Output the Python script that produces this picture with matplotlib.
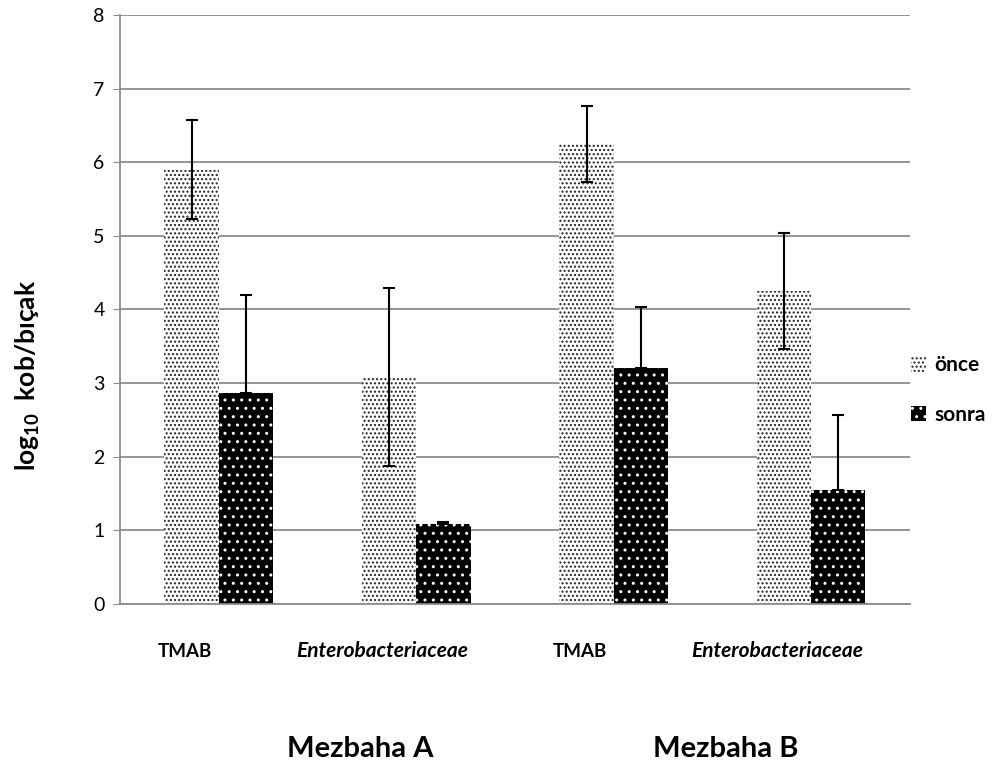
import matplotlib
matplotlib.use("Agg")
import matplotlib.pyplot as plt
from matplotlib.patches import Patch
import matplotlib.transforms as mtransforms
import numpy as np

plt.rcParams['font.family'] = ['Lato', 'DejaVu Sans']
plt.rcParams['mathtext.fontset'] = 'custom'
plt.rcParams['mathtext.rm'] = 'Lato:bold'
plt.rcParams['mathtext.default'] = 'rm'
plt.rcParams['hatch.linewidth'] = 1.0

categories = ["TMAB", "Enterobacteriaceae", "TMAB", "Enterobacteriaceae"]
groups = ["Mezbaha A", "Mezbaha B"]
once = [5.90, 3.08, 6.25, 4.25]
once_err = [0.67, 1.21, 0.52, 0.79]
sonra = [2.87, 1.09, 3.20, 1.55]
sonra_err = [1.33, 0.02, 0.83, 1.02]
yticks = [0, 1, 2, 3, 4, 5, 6, 7, 8]

fig = plt.figure(figsize=(10.03, 7.69), dpi=100)
ax = fig.add_axes([0.1196, 0.2146, 0.7876, 0.7659])

x = np.arange(len(categories))
w = 0.275

ax.bar(x - w/2, once, w, facecolor='white', edgecolor='#222222', hatch='....', linewidth=0, zorder=2)
ax.bar(x + w/2, sonra, w, facecolor='black', edgecolor='white', hatch='..', linewidth=0, zorder=2)
ax.errorbar(x - w/2, once, yerr=once_err, fmt='none', ecolor='black', elinewidth=1.5,
            capsize=4.5, capthick=1.5, zorder=3)
ax.errorbar(x + w/2, sonra, yerr=[np.zeros(len(sonra)), sonra_err], fmt='none', ecolor='black',
            elinewidth=1.5, capsize=4.5, capthick=1.5, zorder=3)

ax.set_xlim(-0.5, 3.5)
ax.set_ylim(0, 8)
ax.set_yticks(yticks)
ax.set_yticklabels([str(t) for t in yticks], fontsize=14)
ax.yaxis.grid(True, color='#8c8c8c', linewidth=1.3)
ax.set_axisbelow(True)
ax.set_xticks([])
for s in ['top', 'right']:
    ax.spines[s].set_visible(False)
for s in ['left', 'bottom']:
    ax.spines[s].set_color('#8c8c8c')
    ax.spines[s].set_linewidth(1.3)
ax.tick_params(axis='y', length=5, color='#8c8c8c', pad=6)

trans = mtransforms.blended_transform_factory(ax.transData, fig.transFigure)
for i, c in enumerate(categories):
    if c.startswith('Entero'):
        ax.text(i - 0.17, 1 - 657/769, c, ha='center', va='baseline', fontsize=15,
                fontweight='bold', style='italic', transform=trans)
    else:
        ax.text(i - 0.17, 1 - 657/769, c, ha='center', va='baseline', fontsize=13.5,
                fontweight='bold', transform=trans)

for gx, g in zip([0.715, 2.568], groups):
    ax.text(gx, 1 - 757/769, g, ha='center', va='baseline', fontsize=21,
            fontweight='bold', transform=trans)

fig.text(0.028, 1 - 375/769, r"log$_{10}$  kob/bıçak", rotation=90, ha='center', va='center',
         fontsize=19, fontweight='bold')

handles = [Patch(facecolor='white', edgecolor='#222222', hatch='....', linewidth=0),
           Patch(facecolor='black', edgecolor='white', hatch='..', linewidth=0)]
fig.legend(handles, ['önce', 'sonra'], loc='center left', bbox_to_anchor=(0.908, 1 - 390/769),
           frameon=False, handlelength=0.75, handleheight=0.75, handletextpad=0.4,
           borderpad=0, borderaxespad=0, labelspacing=1.4,
           prop={'weight': 'bold', 'size': 15, 'family': 'Lato'})

fig.savefig('out.png', dpi=100)
